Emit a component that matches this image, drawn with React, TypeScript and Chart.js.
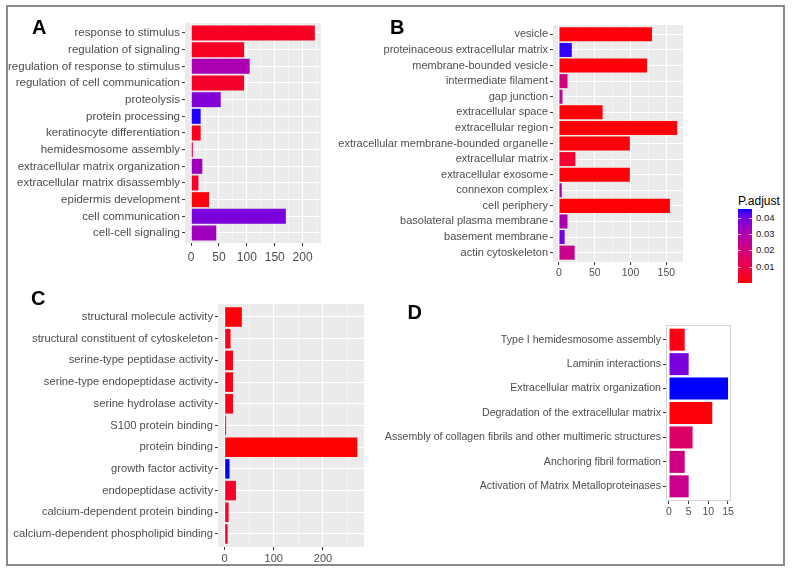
import React, { useEffect, useRef } from 'react';
import { Chart, registerables } from 'chart.js';

Chart.register(...registerables);

const FONT = '"Liberation Sans", Arial, Helvetica, sans-serif';

// ---- Panel A: biological process ----
const bpLabels = [
  'response to stimulus',
  'regulation of signaling',
  'regulation of response to stimulus',
  'regulation of cell communication',
  'proteolysis',
  'protein processing',
  'keratinocyte differentiation',
  'hemidesmosome assembly',
  'extracellular matrix organization',
  'extracellular matrix disassembly',
  'epidermis development',
  'cell communication',
  'cell-cell signaling',
];
const bpCounts = [222, 95, 105, 95, 53, 17, 17, 3, 20, 13, 32, 170, 45];
const bpPadj = [0.0035, 0.0035, 0.031, 0.0045, 0.038, 0.045, 0.003, 0.011, 0.033, 0.0045, 0.001, 0.039, 0.033];
const bpBreaks = [0, 50, 100, 150, 200];

// ---- Panel B: cellular component ----
const ccLabels = [
  'vesicle',
  'proteinaceous extracellular matrix',
  'membrane-bounded vesicle',
  'intermediate filament',
  'gap junction',
  'extracellular space',
  'extracellular region',
  'extracellular membrane-bounded organelle',
  'extracellular matrix',
  'extracellular exosome',
  'connexon complex',
  'cell periphery',
  'basolateral plasma membrane',
  'basement membrane',
  'actin cytoskeleton',
];
const ccCounts = [130, 18, 123, 12, 5, 61, 165, 99, 23, 99, 4, 155, 12, 8, 22];
const ccPadj = [0.0005, 0.0445, 0.0005, 0.02, 0.025, 0.0005, 0.0002, 0.0005, 0.0055, 0.0005, 0.03, 0.0003, 0.031, 0.04, 0.023];
const ccBreaks = [0, 50, 100, 150];

// ---- Panel C: molecular function ----
const mfLabels = [
  'structural molecule activity',
  'structural constituent of cytoskeleton',
  'serine-type peptidase activity',
  'serine-type endopeptidase activity',
  'serine hydrolase activity',
  'S100 protein binding',
  'protein binding',
  'growth factor activity',
  'endopeptidase activity',
  'calcium-dependent protein binding',
  'calcium-dependent phospholipid binding',
];
const mfCounts = [35, 12, 17, 17, 17, 3, 270, 10, 23, 8, 6];
const mfPadj = [0.0005, 0.0025, 0.0015, 0.0015, 0.0015, 0.011, 0.0002, 0.0455, 0.0045, 0.0035, 0.0045];
const mfBreaks = [0, 100, 200];

// ---- Panel D: pathways ----
const pwLabels = [
  'Type I hemidesmosome assembly',
  'Laminin interactions',
  'Extracellular matrix organization',
  'Degradation of the extracellular matrix',
  'Assembly of collagen fibrils and other multimeric structures',
  'Anchoring fibril formation',
  'Activation of Matrix Metalloproteinases',
];
const pwCounts = [4, 5, 15, 11, 6, 4, 5];
const pwPadj = [0.0015, 0.039, 0.0455, 0.0005, 0.016, 0.021, 0.023];
const pwBreaks = [0, 5, 10, 15];

// ---- colour scale ----
const legendBreaks = [0.01, 0.02, 0.03, 0.04];
const P_MIN = 0;
const P_MAX = 0.0455;
const LOW_RGB = [255, 0, 0];
const HIGH_RGB = [0, 0, 255];

function toLin(c: number) {
  const v = c / 255;
  return v <= 0.04045 ? v / 12.92 : Math.pow((v + 0.055) / 1.055, 2.4);
}
function fromLin(c: number) {
  const v = c <= 0.0031308 ? 12.92 * c : 1.055 * Math.pow(Math.max(c, 0), 1 / 2.4) - 0.055;
  return Math.round(Math.min(1, Math.max(0, v)) * 255);
}
function rgbToLab(rgb: number[]) {
  const R = toLin(rgb[0]), G = toLin(rgb[1]), B = toLin(rgb[2]);
  const X = (0.4124564 * R + 0.3575761 * G + 0.1804375 * B) / 0.95047;
  const Y = 0.2126729 * R + 0.7151522 * G + 0.072175 * B;
  const Z = (0.0193339 * R + 0.119192 * G + 0.9503041 * B) / 1.08883;
  const f = (t: number) => (t > 0.008856 ? Math.cbrt(t) : 7.787 * t + 16 / 116);
  const fx = f(X), fy = f(Y), fz = f(Z);
  return [116 * fy - 16, 500 * (fx - fy), 200 * (fy - fz)];
}
function labToRgb(lab: number[]) {
  const fy = (lab[0] + 16) / 116;
  const fx = fy + lab[1] / 500;
  const fz = fy - lab[2] / 200;
  const inv = (t: number) => (t * t * t > 0.008856 ? t * t * t : (t - 16 / 116) / 7.787);
  const X = inv(fx) * 0.95047, Y = inv(fy), Z = inv(fz) * 1.08883;
  const R = 3.2404542 * X - 1.5371385 * Y - 0.4985314 * Z;
  const G = -0.969266 * X + 1.8760108 * Y + 0.041556 * Z;
  const B = 0.0556434 * X - 0.2040259 * Y + 1.0572252 * Z;
  return [fromLin(R), fromLin(G), fromLin(B)];
}
const LOW_LAB = rgbToLab(LOW_RGB);
const HIGH_LAB = rgbToLab(HIGH_RGB);
function pColor(p: number) {
  const t = Math.min(1, Math.max(0, (p - P_MIN) / (P_MAX - P_MIN)));
  const lab = LOW_LAB.map((v, i) => v + (HIGH_LAB[i] - v) * t);
  const c = labToRgb(lab);
  return `rgb(${c[0]},${c[1]},${c[2]})`;
}

type Box = { left: number; top: number; width: number; height: number };
type Area = { left: number; top: number; right: number; bottom: number };

type PanelProps = {
  labels: string[];
  counts: number[];
  padj: number[];
  breaks: number[];
  box: Box;
  area: Area;
  yFont: number;
  xFont: number;
  xPad: number;
  grey: boolean;
};

function BarPanel(props: PanelProps) {
  const ref = useRef<HTMLCanvasElement>(null);
  useEffect(() => {
    const { labels, counts, padj, breaks, box, area, yFont, xFont, xPad, grey } = props;
    const n = labels.length;
    const maxV = Math.max(...counts);
    const xmin = -0.05 * maxV;
    const xmax = 1.05 * maxV;
    const step = breaks[1] - breaks[0];
    const minors = grey ? breaks.map((b) => b + step / 2).filter((v) => v < xmax) : [];
    const xVals = [...breaks, ...minors].sort((a, b) => a - b);
    const isMajor = (v: number) => breaks.indexOf(v) >= 0;

    const bgPlugin = {
      id: 'panelBg',
      beforeDraw(chart: any) {
        const { ctx, chartArea } = chart;
        ctx.save();
        ctx.fillStyle = grey ? '#EBEBEB' : '#FFFFFF';
        ctx.fillRect(chartArea.left, chartArea.top, chartArea.right - chartArea.left, chartArea.bottom - chartArea.top);
        ctx.restore();
      },
      afterDraw(chart: any) {
        if (grey) return;
        const { ctx, chartArea } = chart;
        ctx.save();
        ctx.strokeStyle = '#D4D4D4';
        ctx.lineWidth = 1;
        ctx.strokeRect(
          Math.round(chartArea.left) + 0.5,
          Math.round(chartArea.top) + 0.5,
          Math.round(chartArea.right - chartArea.left) - 1,
          Math.round(chartArea.bottom - chartArea.top) - 1
        );
        ctx.restore();
      },
    };

    const chart = new Chart(ref.current as HTMLCanvasElement, {
      type: 'bar',
      data: {
        datasets: [
          {
            data: counts.map((v, i) => ({ x: v, y: i })),
            backgroundColor: padj.map(pColor),
            borderWidth: 0,
            categoryPercentage: 0.9,
            barPercentage: 1,
          } as any,
        ],
      },
      options: {
        indexAxis: 'y',
        responsive: false,
        animation: false,
        devicePixelRatio: 1,
        events: [],
        layout: {
          padding: {
            left: 0,
            top: area.top - box.top,
            right: box.left + box.width - area.right,
            bottom: 0,
          },
        },
        plugins: { legend: { display: false }, tooltip: { enabled: false } },
        scales: {
          x: {
            type: 'linear',
            min: xmin,
            max: xmax,
            offset: false,
            afterBuildTicks: (s: any) => {
              s.ticks = xVals.map((v) => ({ value: v }));
            },
            afterFit: (s: any) => {
              s.height = box.top + box.height - area.bottom;
            },
            border: { display: false },
            grid: {
              drawOnChartArea: grey,
              color: '#FFFFFF',
              lineWidth: (c: any) => (c.tick && isMajor(c.tick.value) ? 1.1 : 0.55),
              tickColor: (c: any) => (c.tick && isMajor(c.tick.value) ? '#333333' : 'rgba(0,0,0,0)'),
              tickLength: 3,
              tickWidth: 1,
            },
            ticks: {
              autoSkip: false,
              maxRotation: 0,
              padding: xPad,
              color: '#4D4D4D',
              font: { family: FONT, size: xFont },
              callback: (v: any) => (isMajor(Number(v)) ? String(v) : ''),
            },
          },
          y: {
            type: 'linear',
            reverse: true,
            min: -0.6,
            max: n - 0.4,
            offset: false,
            afterBuildTicks: (s: any) => {
              s.ticks = labels.map((_, i) => ({ value: i }));
            },
            afterFit: (s: any) => {
              s.width = area.left - box.left;
            },
            border: { display: false },
            grid: {
              offset: false,
              drawOnChartArea: grey,
              color: '#FFFFFF',
              lineWidth: 1.1,
              tickColor: '#333333',
              tickLength: 3,
              tickWidth: 1,
            },
            ticks: {
              autoSkip: false,
              padding: 2,
              color: '#4D4D4D',
              font: { family: FONT, size: yFont },
              callback: (v: any) => labels[Math.round(Number(v))] ?? '',
            },
          },
        },
      } as any,
      plugins: [bgPlugin],
    });
    return () => chart.destroy();
  }, []);
  const { box } = props;
  return (
    <canvas
      ref={ref}
      width={box.width}
      height={box.height}
      style={{ position: 'absolute', left: box.left, top: box.top, width: box.width, height: box.height }}
    />
  );
}

function Letter({ text, left, top }: { text: string; left: number; top: number }) {
  return (
    <div
      style={{
        position: 'absolute',
        left,
        top,
        fontFamily: FONT,
        fontWeight: 'bold',
        fontSize: 20,
        lineHeight: '20px',
        color: '#000',
      }}
    >
      {text}
    </div>
  );
}

function ColourLegend() {
  const barLeft = 738;
  const barTop = 209;
  const barW = 14;
  const barH = 74;
  const stops: string[] = [];
  for (let i = 0; i <= 20; i++) {
    const p = P_MIN + ((P_MAX - P_MIN) * i) / 20;
    stops.push(`${pColor(p)} ${(i / 20) * 100}%`);
  }
  const yOf = (p: number) => barTop + barH - ((p - P_MIN) / (P_MAX - P_MIN)) * barH;
  return (
    <>
      <div
        style={{
          position: 'absolute',
          left: 738,
          top: 195,
          fontFamily: FONT,
          fontSize: 12,
          lineHeight: '12px',
          color: '#000',
          whiteSpace: 'nowrap',
        }}
      >
        P.adjust
      </div>
      <div
        style={{
          position: 'absolute',
          left: barLeft,
          top: barTop,
          width: barW,
          height: barH,
          background: `linear-gradient(to top, ${stops.join(', ')})`,
        }}
      />
      {legendBreaks.map((b) => (
        <React.Fragment key={b}>
          <div style={{ position: 'absolute', left: barLeft, top: Math.round(yOf(b)), width: 3, height: 1, background: 'rgba(255,255,255,0.7)' }} />
          <div style={{ position: 'absolute', left: barLeft + barW - 3, top: Math.round(yOf(b)), width: 3, height: 1, background: 'rgba(255,255,255,0.7)' }} />
          <div
            style={{
              position: 'absolute',
              left: 756,
              top: yOf(b) - 5,
              fontFamily: FONT,
              fontSize: 9.5,
              lineHeight: '10px',
              color: '#1a1a1a',
            }}
          >
            {b.toFixed(2)}
          </div>
        </React.Fragment>
      ))}
    </>
  );
}

export default function App() {
  return (
    <div style={{ position: 'absolute', left: 0, top: 0, width: 794, height: 572, background: '#FFFFFF', overflow: 'hidden' }}>
      <div
        style={{
          position: 'absolute',
          left: 6,
          top: 5,
          width: 779,
          height: 561,
          boxSizing: 'border-box',
          border: '2px solid #8a8a8a',
        }}
      />
      <BarPanel
        labels={bpLabels}
        counts={bpCounts}
        padj={bpPadj}
        breaks={bpBreaks}
        box={{ left: 0, top: 10, width: 340, height: 260 }}
        area={{ left: 185, top: 23, right: 321, bottom: 243 }}
        yFont={11.5}
        xFont={12}
        xPad={4}
        grey={true}
      />
      <BarPanel
        labels={ccLabels}
        counts={ccCounts}
        padj={ccPadj}
        breaks={ccBreaks}
        box={{ left: 330, top: 10, width: 370, height: 275 }}
        area={{ left: 553, top: 25, right: 683, bottom: 262 }}
        yFont={11}
        xFont={10.5}
        xPad={2}
        grey={true}
      />
      <BarPanel
        labels={mfLabels}
        counts={mfCounts}
        padj={mfPadj}
        breaks={mfBreaks}
        box={{ left: 0, top: 290, width: 380, height: 275 }}
        area={{ left: 218, top: 304, right: 364, bottom: 547 }}
        yFont={11.2}
        xFont={11}
        xPad={2}
        grey={true}
      />
      <BarPanel
        labels={pwLabels}
        counts={pwCounts}
        padj={pwPadj}
        breaks={pwBreaks}
        box={{ left: 380, top: 310, width: 360, height: 220 }}
        area={{ left: 666, top: 325, right: 731, bottom: 501 }}
        yFont={10.6}
        xFont={10.5}
        xPad={2}
        grey={false}
      />
      <Letter text="A" left={32} top={17} />
      <Letter text="B" left={390} top={17} />
      <Letter text="C" left={31} top={288} />
      <Letter text="D" left={407.5} top={302} />
      <ColourLegend />
    </div>
  );
}
